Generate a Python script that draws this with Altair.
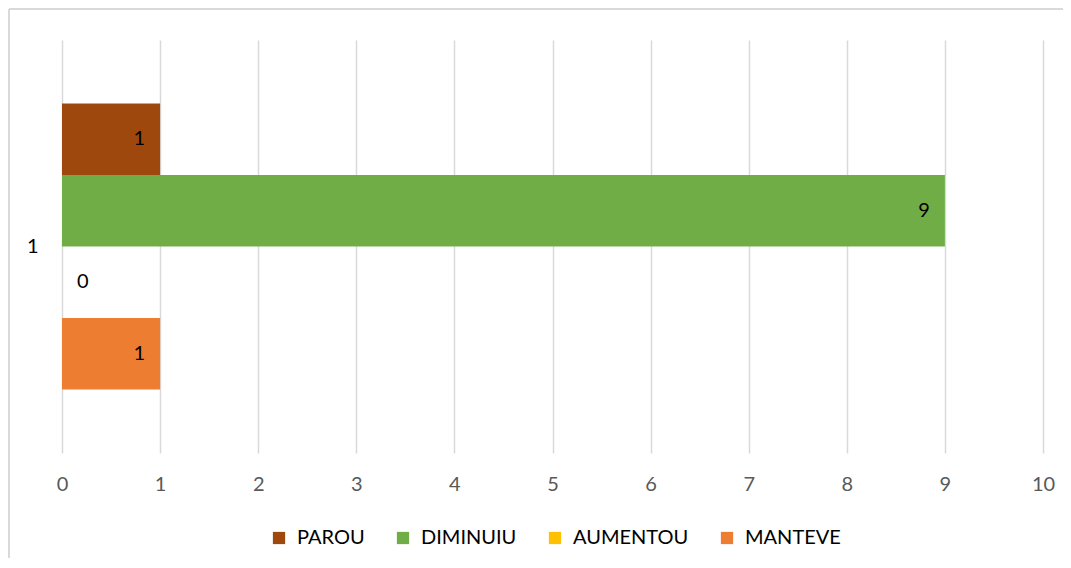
import altair as alt
import pandas as pd

categories = ["1"]
series = ["PAROU", "DIMINUIU", "AUMENTOU", "MANTEVE"]
values = [1, 9, 0, 1]
colors = ["#9E480E", "#70AD47", "#FFC000", "#ED7D31"]
x_ticks = list(range(0, 11))

df = pd.DataFrame({
    "cat": [categories[0]] * len(series),
    "serie": series,
    "v": values,
})

FONT = "Lato"
FS = 20

base = alt.Chart(df).encode(
    y=alt.Y("cat:N", title=None,
            scale=alt.Scale(paddingInner=0, paddingOuter=0.222),
            axis=alt.Axis(ticks=False, domain=False, labelPadding=24,
                          labelFontSize=FS, labelColor="#000000", labelFont=FONT)),
    yOffset=alt.YOffset("serie:N", sort=series,
                        scale=alt.Scale(paddingInner=0, paddingOuter=0)),
)

bars = base.mark_bar().encode(
    x=alt.X("v:Q", title=None,
            scale=alt.Scale(domain=[0, 10], nice=False),
            axis=alt.Axis(values=x_ticks, format="d", ticks=False, domain=False,
                          grid=True, gridColor="#d9d9d9", gridWidth=1.5,
                          labelAlign="center",
                          labelPadding=21, labelFontSize=FS, labelColor="#595959",
                          labelFont=FONT)),
    color=alt.Color("serie:N", sort=series,
                    scale=alt.Scale(domain=series, range=colors),
                    legend=alt.Legend(title=None, orient="none", direction="horizontal",
                                      legendX=207, legendY=488,
                                      symbolType="square", symbolSize=150,
                                      symbolStrokeWidth=0, labelFontSize=FS,
                                      labelFont=FONT, labelColor="#000000",
                                      columnPadding=28, labelOffset=8)),
)

labels_pos = base.transform_filter("datum.v > 0").mark_text(
    align="right", dx=-15, fontSize=FS, font=FONT, color="#000000"
).encode(x="v:Q", text="v:Q")

labels_zero = base.transform_filter("datum.v == 0").mark_text(
    align="left", dx=15, fontSize=FS, font=FONT, color="#000000"
).encode(x="v:Q", text="v:Q")

frame = pd.DataFrame({"a": [0]})
top_rule = alt.Chart(frame).mark_rule(color="#d9d9d9", strokeWidth=2).encode(
    x=alt.value(-53), x2=alt.value(1100), y=alt.value(-31))
left_rule = alt.Chart(frame).mark_rule(color="#d9d9d9", strokeWidth=2).encode(
    x=alt.value(-53), y=alt.value(-31), y2=alt.value(600))

chart = alt.layer(bars, labels_pos, labels_zero, top_rule, left_rule).properties(
    width=981, height=413,
    padding={"left": 54, "top": 32, "right": 20, "bottom": 105},
    autosize=alt.AutoSizeParams(type="none"),
).configure_view(stroke=None)

chart.save("out.html", embed_options={"renderer": "svg", "actions": False})
